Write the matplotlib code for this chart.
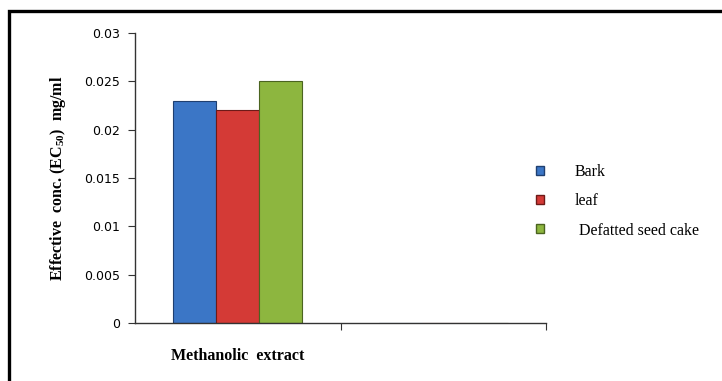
import matplotlib
matplotlib.use("Agg")
import matplotlib.pyplot as plt
from matplotlib.patches import Rectangle, Patch

categories = ["Methanolic  extract", ""]
series = ["Bark", "leaf", " Defatted seed cake"]
bark = [0.023, 0]
leaf = [0.022, 0]
defatted = [0.025, 0]
yticks = [0, 0.005, 0.01, 0.015, 0.02, 0.025, 0.03]

colors = ["#3b76c6", "#d43a36", "#8db63f"]
edges = ["#1f3f70", "#6e1a18", "#4b6420"]

plt.rcParams["mathtext.fontset"] = "custom"
plt.rcParams["mathtext.rm"] = "Liberation Serif:bold"
plt.rcParams["mathtext.bf"] = "Liberation Serif:bold"

fig = plt.figure(figsize=(7.22, 3.81), dpi=100)
ax = fig.add_axes([135/722, 1-323/381, (546-135)/722, (323-33)/381])

w = 0.21
xs = range(len(categories))
for i, vals in enumerate([bark, leaf, defatted]):
    ax.bar([x + (i - 1) * w for x in xs], vals, width=w, color=colors[i],
           edgecolor=edges[i], linewidth=0.8)

ax.set_xlim(-0.5, 1.5)
ax.set_ylim(0, 0.03)
ax.set_yticks(yticks)
ax.set_yticklabels(["0", "0.005", "0.01", "0.015", "0.02", "0.025", "0.03"],
                   fontsize=9, family="DejaVu Sans")
ax.set_xticks([0.5, 1.5])
ax.set_xticklabels([])
ax.set_xticks([0], minor=True)
ax.set_xticklabels([categories[0]], minor=True, fontsize=11.5,
                   family="Liberation Serif", fontweight="bold")
ax.tick_params(axis="x", which="minor", length=0, pad=18)
ax.tick_params(axis="x", which="major", length=5, direction="out", color="#333333")
ax.tick_params(axis="y", length=5, direction="out", pad=6, color="#333333")
for s in ["top", "right"]:
    ax.spines[s].set_visible(False)
for s in ["left", "bottom"]:
    ax.spines[s].set_color("#333333")
    ax.spines[s].set_linewidth(1.0)

ax.set_ylabel(r"Effective  conc. (EC$_{50}$)  mg/ml", fontsize=11.5,
              family="Liberation Serif", fontweight="bold", labelpad=11)

handles = [Patch(facecolor=c, edgecolor=e) for c, e in zip(colors, edges)]
fig.legend(handles, series, loc="upper left", bbox_to_anchor=(522/722, 1-150/381),
           frameon=False, prop={"family": "Liberation Serif", "size": 11.5},
           handlelength=0.5, handleheight=0.5, handletextpad=1.9, labelspacing=0.82)

fig.patches.append(Rectangle((9/722, -0.1), 1.2, 370/381 + 0.1, fill=False,
                             linewidth=2.4, edgecolor="black",
                             transform=fig.transFigure, clip_on=False))

fig.savefig("out.png", dpi=100)
